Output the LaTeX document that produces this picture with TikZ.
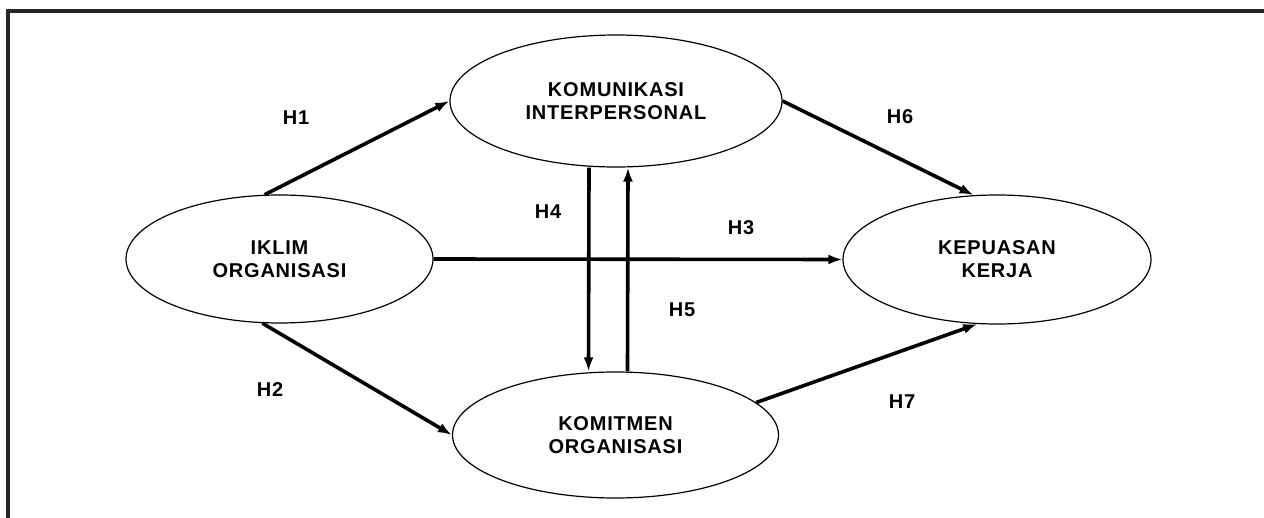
\documentclass[tikz,border=0pt]{standalone}
\usepackage{fontspec}
\setmainfont{Liberation Sans}
\newfontfamily\diagfont[LetterSpace=4]{Liberation Sans}
\usetikzlibrary{arrows.meta}
\usetikzlibrary{positioning}
\usetikzlibrary{shapes.geometric}

\begin{document}
\begin{tikzpicture}[->,>={Latex[length=7pt,width=5pt]},x=0.5pt,y=-0.5pt,
			line width=1.8pt,font=\diagfont\bfseries\fontsize{10}{11.5}\selectfont]
			\tikzstyle{var}=[ellipse,draw,line width=0.6pt,inner sep=0pt,align=center]
			\tikzstyle{hyp}=[inner sep=0pt]

			\useasboundingbox (0,0) rectangle (1264,518);
			\draw[-,line width=1.6pt,black!85] (8,518) -- (8,11) -- (1264,11);

			\node[var,minimum width=153.5pt,minimum height=64pt] (iklim)      at (279.5,259) {IKLIM\\ORGANISASI};
			\node[var,minimum width=166pt,minimum height=66pt]   (komunikasi) at (616,101)   {KOMUNIKASI\\INTERPERSONAL};
			\node[var,minimum width=163pt,minimum height=63pt]   (komitmen)   at (615.5,435) {KOMITMEN\\ORGANISASI};
			\node[var,minimum width=154pt,minimum height=64.5pt] (kepuasan)   at (997,259.5) {KEPUASAN\\KERJA};

			\node[hyp] (h1) at (296,118) {H1};
			\node[hyp] (h2) at (270,390) {H2};
			\node[hyp] (h3) at (741,228) {H3};
			\node[hyp] (h4) at (548,212) {H4};
			\node[hyp] (h5) at (682,310) {H5};
			\node[hyp] (h6) at (900,117) {H6};
			\node[hyp] (h7) at (902,402) {H7};

			\draw (iklim.103) -- (komunikasi.west);
			\draw (iklim.255) -- (komitmen.west);
			\draw (iklim.east) -- (kepuasan.west);
			\draw ([xshift=-13.5pt]komunikasi.south) -- ([xshift=-13.5pt]komitmen.north);
			\draw ([xshift=6pt]komitmen.north) -- ([xshift=6pt]komunikasi.south);
			\draw (komunikasi.east) -- (kepuasan.110);
			\draw (komitmen.13) -- (kepuasan.253);
\end{tikzpicture}
\end{document}
